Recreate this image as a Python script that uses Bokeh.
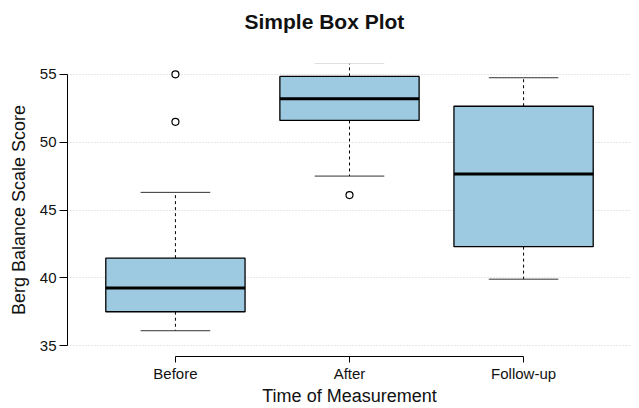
from bokeh.plotting import figure
from bokeh.models import Range1d, FixedTicker, ColumnDataSource, Title, LinearAxis
from bokeh.embed import file_html
from bokeh.resources import INLINE

# ---- data ----
categories = ["Before", "After", "Follow-up"]
q1 = [37.5, 51.6, 42.3]
median = [39.25, 53.2, 47.65]
q3 = [41.45, 54.85, 52.65]
whisker_low = [36.1, 47.5, 39.9]
whisker_high = [46.3, 55.85, 54.75]
outlier_cat = ["Before", "Before", "After"]
outlier_val = [55.0, 51.5, 46.1]
y_ticks = [35, 40, 45, 50, 55]

title_text = "Simple Box Plot"
x_label = "Time of Measurement"
y_label = "Berg Balance Scale Score"

FONT = "Liberation Sans"
BOX_FILL = "#9ECAE1"
TXT = "#111111"

xs = [i + 1 for i in range(len(categories))]
pos = {c: i + 1 for i, c in enumerate(categories)}
box_w = 0.8
cap_half = 0.2

p = figure(width=639, height=408, output_backend="svg", toolbar_location=None,
           x_range=Range1d(0.38, 3.62), y_range=Range1d(34.2, 55.8),
           min_border_left=67, min_border_right=8, min_border_top=63,
           min_border_bottom=51, title=None)
p.outline_line_color = None
p.background_fill_color = "white"
p.border_fill_color = "white"

# invisible spacer (white tick, no label) between the frame and the title
spacer = LinearAxis(ticker=FixedTicker(ticks=[xs[1]]), axis_line_color=None,
                    major_tick_line_color="white", minor_tick_line_color=None,
                    major_tick_in=0, major_tick_out=24, major_label_standoff=0,
                    major_label_text_font_size="0px",
                    major_label_overrides={xs[1]: ""})
p.add_layout(spacer, "above")

# title
p.add_layout(Title(text=title_text, text_font=FONT, text_font_size="21px",
                   text_font_style="bold", text_color=TXT, align="left",
                   vertical_align="top", offset=177, standoff=10), "above")

# grid
p.xgrid.visible = False
p.ygrid.ticker = FixedTicker(ticks=y_ticks)
p.ygrid.grid_line_color = "#cfcfcf"
p.ygrid.grid_line_dash = "1 2"
p.ygrid.grid_line_width = 1

# axes
xa = p.below[0]
ya = p.left[0]
xa.ticker = FixedTicker(ticks=xs)
xa.major_label_overrides = {x: c for x, c in zip(xs, categories)}
xa.bounds = (xs[0], xs[-1])
ya.ticker = FixedTicker(ticks=y_ticks)
ya.bounds = (y_ticks[0], y_ticks[-1])
for ax in (xa, ya):
    ax.axis_line_color = "black"
    ax.axis_line_width = 1
    ax.major_tick_line_color = "black"
    ax.major_tick_in = 0
    ax.minor_tick_line_color = None
    ax.major_label_text_font = FONT
    ax.major_label_text_font_size = "15px"
    ax.major_label_text_color = TXT
    ax.axis_label_text_font = FONT
    ax.axis_label_text_font_size = "18px"
    ax.axis_label_text_font_style = "normal"
    ax.axis_label_text_color = TXT
xa.major_tick_out = 6
ya.major_tick_out = 8
xa.major_label_standoff = 2
ya.major_label_standoff = 3
xa.axis_label = x_label
ya.axis_label = y_label
xa.axis_label_standoff = 1
ya.axis_label_standoff = 8

src = ColumnDataSource(dict(
    x=xs, q1=q1, q3=q3, med=median, lo=whisker_low, hi=whisker_high,
    x0=[x - box_w / 2 for x in xs], x1=[x + box_w / 2 for x in xs],
    c0=[x - cap_half for x in xs], c1=[x + cap_half for x in xs],
))

# whiskers (dashed)
p.segment(x0="x", y0="q3", x1="x", y1="hi", source=src, line_color="black",
          line_width=1, line_dash="3 3")
p.segment(x0="x", y0="q1", x1="x", y1="lo", source=src, line_color="black",
          line_width=1, line_dash="3 3")
# whisker caps
p.segment(x0="c0", y0="hi", x1="c1", y1="hi", source=src, line_color="#333333", line_width=1)
p.segment(x0="c0", y0="lo", x1="c1", y1="lo", source=src, line_color="#333333", line_width=1)
# boxes
p.vbar(x="x", width=box_w, bottom="q1", top="q3", source=src,
       fill_color=BOX_FILL, line_color="black", line_width=1.3)
# medians
p.segment(x0="x0", y0="med", x1="x1", y1="med", source=src, line_color="black", line_width=3)
# outliers
p.scatter(x=[pos[c] for c in outlier_cat], y=outlier_val, marker="circle", size=7,
          fill_color="white", line_color="black", line_width=1.2)

open("out.html", "w").write(file_html(p, INLINE))
